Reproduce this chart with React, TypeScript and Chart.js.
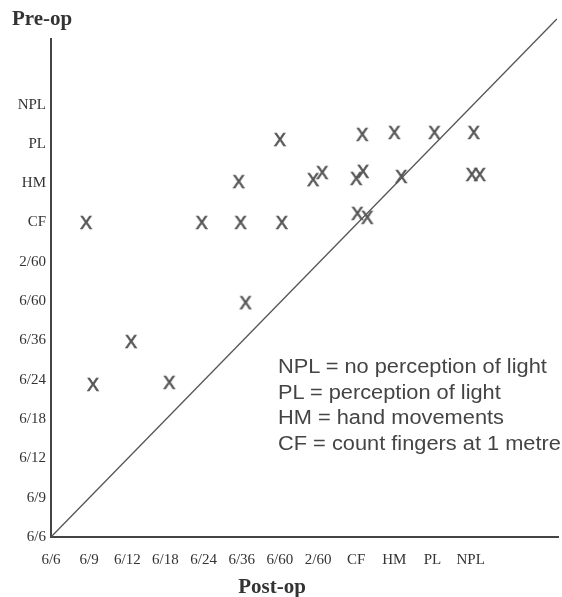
import React, { useEffect, useRef } from "react";
import { Chart, registerables } from "chart.js";

Chart.register(...registerables);

// Ordinal acuity categories (index 0..11) used on both axes
const acuityLabels = ["6/6", "6/9", "6/12", "6/18", "6/24", "6/36", "6/60", "2/60", "CF", "HM", "PL", "NPL"];

// Each X mark: post-op (x) and pre-op (y) on the category index scale, with the small jitter seen in the figure
const postOp = [6.0, 8.16, 9.0, 10.05, 11.08, 4.92, 6.87, 7.11, 8.0, 8.18, 9.18, 11.03, 11.24, 0.92, 3.95, 4.97, 6.05, 8.03, 8.29, 5.1, 2.1, 1.1, 3.1];
const preOp = [10.1, 10.23, 10.28, 10.28, 10.28, 9.03, 9.08, 9.26, 9.11, 9.29, 9.16, 9.21, 9.21, 7.99, 7.99, 7.99, 7.99, 8.22, 8.12, 5.95, 4.96, 3.87, 3.92];

// Line of no change (identity), drawn from origin past the top of the y axis
const identityX = [0, 13.26];
const identityY = [0, 13.18];

const xMax = 13.29;
const yMax = 12.67;

const yTitle = "Pre-op";
const xTitle = "Post-op";

const legendLines = [
  "NPL = no perception of light",
  "PL = perception of light",
  "HM = hand movements",
  "CF = count fingers at 1 metre",
];

const serif = '"Liberation Serif", "Times New Roman", serif';

function makeXGlyph(): HTMLCanvasElement {
  const c = document.createElement("canvas");
  c.width = 20;
  c.height = 20;
  const ctx = c.getContext("2d")!;
  ctx.fillStyle = "#555555";
  ctx.strokeStyle = "#555555";
  ctx.lineWidth = 0.7;
  ctx.font = '18px "Liberation Sans", Arial, sans-serif';
  ctx.textAlign = "center";
  ctx.textBaseline = "alphabetic";
  ctx.fillText("X", 10, 16.4);
  ctx.strokeText("X", 10, 16.4);
  return c;
}

export default function App() {
  const canvasRef = useRef<HTMLCanvasElement | null>(null);

  useEffect(() => {
    document.body.style.margin = "0";
    const glyph = makeXGlyph();
    const tickLabel = (v: number | string) => {
      const n = Number(v);
      return Number.isInteger(n) && n >= 0 && n < acuityLabels.length ? acuityLabels[n] : "";
    };
    const hiddenGrid = (len: number) => ({
      display: true,
      drawOnChartArea: false,
      drawTicks: true,
      tickLength: len,
      color: "rgba(0,0,0,0)",
    });
    const chart = new Chart(canvasRef.current!, {
      type: "scatter",
      data: {
        datasets: [
          {
            type: "line",
            data: identityX.map((x, i) => ({ x, y: identityY[i] })),
            borderColor: "#555555",
            borderWidth: 1.3,
            pointRadius: 0,
            fill: false,
            clip: false as any,
          },
          {
            type: "scatter",
            data: postOp.map((x, i) => ({ x, y: preOp[i] })),
            pointStyle: glyph as any,
            pointRadius: 8,
          },
        ],
      },
      options: {
        animation: false,
        responsive: false,
        maintainAspectRatio: false,
        layout: { autoPadding: false, padding: { left: 12, right: 4, top: 0, bottom: 0 } },
        plugins: {
          legend: { display: false },
          tooltip: { enabled: false },
          title: {
            display: true,
            text: yTitle,
            align: "start",
            color: "#333333",
            font: { family: serif, size: 21, weight: "bold", lineHeight: 1.2 },
            padding: { top: 7, bottom: 6.8 },
          },
        },
        scales: {
          x: {
            type: "linear",
            min: 0,
            max: xMax,
            grid: hiddenGrid(14),
            border: { display: true, color: "#444444", width: 2 },
            ticks: {
              stepSize: 1,
              autoSkip: false,
              maxRotation: 0,
              padding: 0,
              color: "#333333",
              font: { family: serif, size: 15 },
              callback: tickLabel,
            },
            afterFit: (scale: any) => {
              scale.height = 60;
              scale.paddingLeft = 0;
              scale.paddingRight = 0;
            },
          },
          y: {
            type: "linear",
            min: 0,
            max: yMax,
            grid: hiddenGrid(5),
            border: { display: true, color: "#444444", width: 2 },
            ticks: {
              stepSize: 1,
              autoSkip: false,
              padding: 0,
              color: "#333333",
              font: { family: serif, size: 15 },
              callback: tickLabel,
            },
            afterFit: (scale: any) => {
              scale.width = 39;
            },
          },
        },
      },
    });
    return () => chart.destroy();
  }, []);

  return (
    <div style={{ position: "relative", width: 562, height: 597, background: "#ffffff", overflow: "hidden" }}>
      <canvas ref={canvasRef} width={562} height={597} style={{ display: "block" }} />
      <div
        style={{
          position: "absolute",
          left: 172,
          width: 200,
          top: 574,
          textAlign: "center",
          fontFamily: serif,
          fontSize: 21,
          fontWeight: "bold",
          lineHeight: "24px",
          color: "#333333",
        }}
      >
        {xTitle}
      </div>
      <div
        style={{
          position: "absolute",
          left: 278,
          top: 354.25,
          fontFamily: '"Liberation Sans", Arial, sans-serif',
          fontSize: 20,
          lineHeight: "25.5px",
          color: "#444444",
          whiteSpace: "nowrap",
          transform: "scaleX(1.09)",
          transformOrigin: "0 0",
        }}
      >
        {legendLines.map((t) => (
          <div key={t}>{t}</div>
        ))}
      </div>
    </div>
  );
}
